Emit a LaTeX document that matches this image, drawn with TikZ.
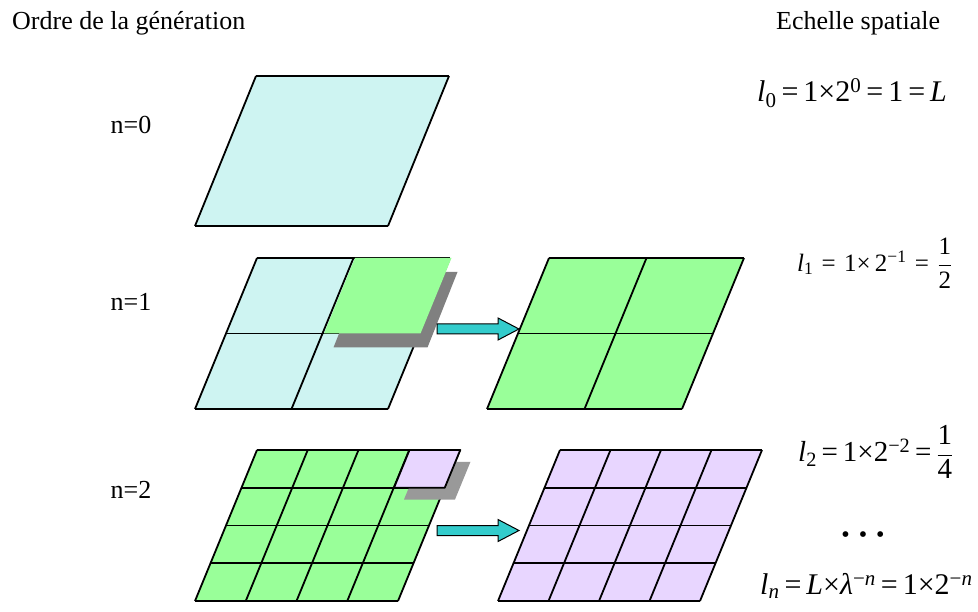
\documentclass[tikz,border=0pt]{standalone}
\usepackage{fontspec}
\setmainfont{Liberation Serif}
\usetikzlibrary{calc}

\definecolor{cellcyan}{RGB}{206,244,242}
\definecolor{cellgreen}{RGB}{153,255,153}
\definecolor{cellpurple}{RGB}{232,214,255}
\definecolor{arrowteal}{RGB}{51,204,204}
\definecolor{shadowdark}{RGB}{128,128,128}
\definecolor{shadowlight}{RGB}{153,153,153}

\tikzset{
  gridline/.style={line width=1.8pt, line join=round},
  blockarrow/.style={draw=black, line width=1pt, fill=arrowteal},
  heading/.style={font=\fontsize{26}{30}\selectfont, inner sep=0pt},
  formula/.style={inner sep=0pt, anchor=west},
}

% bottom-left x, bottom-left y, width, height, skew, cells, colour
\newcommand\cellgrid[7]{%
  \fill[#7] (#1,#2) -- ++(#3,0) -- ++(#5,-#4) -- ++(-#3,0) -- cycle;
  \foreach \i in {0,...,#6}{
    \draw[gridline] ({#1+#5*\i/#6},{#2-#4*\i/#6}) -- ++(#3,0);
    \draw[gridline] ({#1+#3*\i/#6},#2) -- ++(#5,-#4);
  }
}
% one cell: bottom-left x, bottom-left y, width, height, skew, style
\newcommand\onecell[6]{%
  \path[#6] (#1,#2) -- ++(#3,0) -- ++(#5,-#4) -- ++(-#3,0) -- cycle;
}
\newcommand\blockarrow[2]{%
  \draw[blockarrow] ($(#1)+(0,-5)$) -- ($(#2)+(-21,-5)$) -- ($(#2)+(-21,-11)$)
    -- (#2) -- ($(#2)+(-21,11)$) -- ($(#2)+(-21,5)$) -- ($(#1)+(0,5)$) -- cycle;
}
\newcommand\fracpart[2]{$\displaystyle\frac{\mbox{#1}}{\mbox{#2}}$}

\begin{document}
\begin{tikzpicture}[x=1pt, y=-1pt]
\useasboundingbox (0,0) rectangle (978,612);

\node[heading, anchor=base west] (order) at (12,30) {Ordre de la génération};
\node[heading, anchor=base west] (scale) at (776,30) {Echelle spatiale};

\node[heading] (gen0) at (131,125) {n=0};
\node[heading] (gen1) at (131,302) {n=1};
\node[heading] (gen2) at (131,490) {n=2};

% n=0
\cellgrid{195}{226}{193}{150}{61}{1}{cellcyan}

% n=1
\cellgrid{195}{409}{193}{151}{62}{2}{cellcyan}
\onecell{333.5}{347.5}{94}{75.5}{30}{fill=shadowdark}
\onecell{324}{333.5}{96.5}{75.5}{31}{fill=cellgreen}
\cellgrid{487}{409}{195}{151}{62}{2}{cellgreen}
\coordinate (a1s) at (437,329);
\coordinate (a1e) at (519,329);
\blockarrow{a1s}{a1e}

% n=2
\cellgrid{195}{601}{203}{151}{62}{4}{cellgreen}
\onecell{404}{499.5}{51}{37.75}{15.5}{fill=shadowlight}
\onecell{394}{487.75}{50.75}{37.75}{15.5}{draw, gridline, fill=cellpurple}
\cellgrid{498}{601}{202}{151}{62}{4}{cellpurple}
\coordinate (a2s) at (437,530.5);
\coordinate (a2e) at (519,530.5);
\blockarrow{a2s}{a2e}

% spatial scale
\node[formula, font=\fontsize{30}{34}\selectfont] (len0) at (757,93)
  {{\itshape l}\textsubscript{0}\,=\,1×2\textsuperscript{0}\,=\,1\,=\,{\itshape L}};
\node[formula, font=\fontsize{25}{29}\selectfont] (len1) at (797,263)
  {{\itshape l}\textsubscript{1}\,\,=\,\,1×\,2\textsuperscript{−1}\,\,=\,\,\fracpart{1}{2}};
\node[formula, font=\fontsize{29}{33}\selectfont] (len2) at (798,452)
  {{\itshape l}\textsubscript{2}\,=\,1×2\textsuperscript{−2}\,=\,\fracpart{1}{4}};
\node[inner sep=0pt, font=\fontsize{24}{24}\selectfont] (dots) at (863,537)
  {•\hspace{9pt}•\hspace{9pt}•};
\node[formula, font=\fontsize{30}{34}\selectfont] (lenn) at (760,586)
  {{\itshape l}\textsubscript{\itshape n}\,=\,{\itshape L}×{\itshape λ}\textsuperscript{−{\itshape n}}\,=\,1×2\textsuperscript{−{\itshape n}}};
\end{tikzpicture}
\end{document}
